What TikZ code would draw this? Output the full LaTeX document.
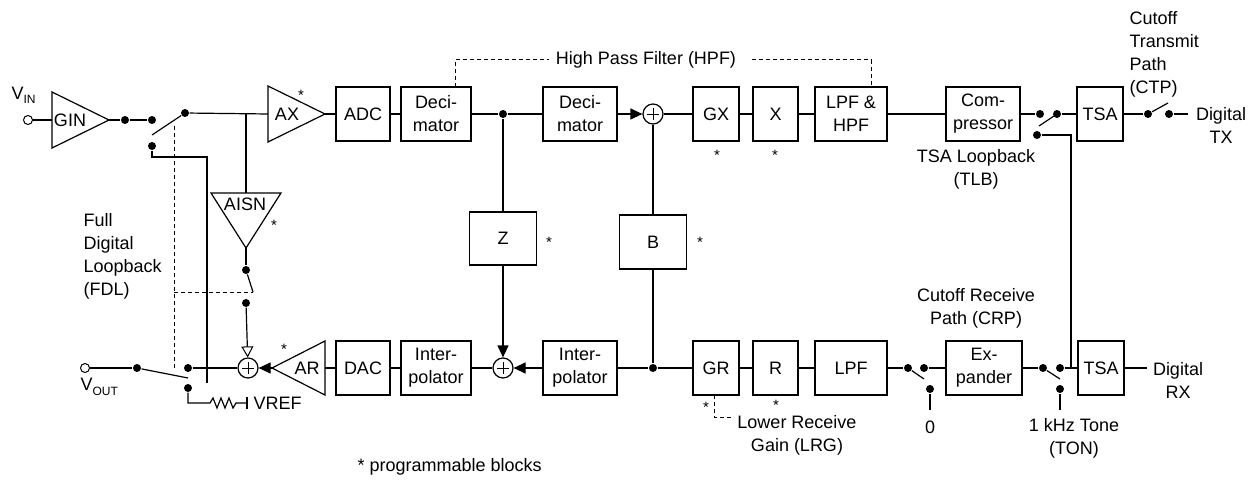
\documentclass[tikz,border=0pt]{standalone}
\usepackage{fontspec}
\setmainfont{Liberation Sans}
\usetikzlibrary{arrows.meta}
\begin{document}
\begin{tikzpicture}[x=1pt,y=-1pt, line width=1.2pt,
  every node/.style={font=\fontsize{18}{23}\selectfont, inner sep=0pt},
  blk/.style={draw, minimum height=54pt, align=center},
  dot/.style={circle, fill, minimum size=8pt, inner sep=0pt},
  odot/.style={circle, draw, fill=white, minimum size=9pt, inner sep=0pt, line width=1pt},
  sum/.style={circle, draw, minimum size=20pt, inner sep=0pt,
    path picture={\draw[line width=0.8pt] ([xshift=-6pt]path picture bounding box.center) -- ([xshift=6pt]path picture bounding box.center);
                  \draw[line width=0.8pt] ([yshift=-6pt]path picture bounding box.center) -- ([yshift=6pt]path picture bounding box.center);}},
  star/.style={font=\fontsize{15}{15}\selectfont},
  arr/.style={-{Triangle[length=12pt,width=11pt]}},
  harr/.style={-{Triangle[open,length=11pt,width=12pt,line width=1pt]}},
  dsh/.style={line width=1pt, dash pattern=on 4pt off 3pt},
  lbl/.style={align=center}
]
\useasboundingbox (0,0) rectangle (1253,481);

% ---------- top row boxes ----------
\node[blk, minimum width=54pt] (adc) at (363,114) {ADC};
\node[blk, minimum width=70pt] (dec1) at (436,114) {Deci-\\mator};
\node[blk, minimum width=74pt] (dec2) at (580,114) {Deci-\\mator};
\node[sum] (sum1) at (653,114) {};
\node[blk, minimum width=46pt] (gx) at (716,114) {GX};
\node[blk, minimum width=45pt] (xb) at (775.5,114) {X};
\node[blk, minimum width=72pt] (lpfhpf) at (851,114) {LPF \&\\HPF};
\node[blk, minimum width=74pt] (comp) at (983,114) {Com-\\pressor};
\node[blk, minimum width=46pt] (tsatx) at (1100,114) {TSA};

% ---------- bottom row boxes ----------
\node[blk, minimum width=54pt] (dac) at (363,368) {DAC};
\node[blk, minimum width=70pt] (int1) at (436,368) {Inter-\\polator};
\node[sum] (sum2) at (503,368) {};
\node[blk, minimum width=74pt] (int2) at (580,368) {Inter-\\polator};
\node[blk, minimum width=46pt] (gr) at (716,368) {GR};
\node[blk, minimum width=45pt] (rb) at (775.5,368) {R};
\node[blk, minimum width=72pt] (lpf) at (851,368) {LPF};
\node[blk, minimum width=76pt] (exp) at (984,368) {Ex-\\pander};
\node[blk, minimum width=46pt] (tsarx) at (1101,368) {TSA};

% ---------- Z and B ----------
\node[blk, minimum width=67pt, minimum height=53pt] (zb) at (503,238.5) {Z};
\node[blk, minimum width=67pt, minimum height=54pt] (bb) at (653,242) {B};

% ---------- GIN ----------
\draw (52,92) -- (52,148) -- (109,120) -- cycle;
\coordinate (ginin) at (52,120);
\coordinate (ginout) at (109,120);
\node (gin) at (70,120) {GIN};
\node[odot] (vin) at (28,120) {};
\node[anchor=west] (vinl) at (11,95) {V\raisebox{-0.45ex}{\fontsize{12}{12}\selectfont IN}};
\draw (vin) -- (ginin);

% input switch
\node[dot] (s1a) at (125,120) {};
\node[dot] (s1b) at (152,120) {};
\node[dot] (s1c) at (152,146) {};
\node[dot] (s1p) at (185,113) {};
\coordinate (s1e) at (152,135);
\draw (ginout) -- (s1a) -- (s1b);
\draw (s1p) -- (s1e);

% AX
\draw (268,86) -- (268,142) -- (325,114) -- cycle;
\coordinate (axin) at (268,114);
\coordinate (axout) at (325,114);
\node (ax) at (287,114) {AX};
\node[star] (axs) at (301,95) {*};
\draw (s1p) -- (axin);
\draw (axout) -- (adc);
\draw (adc) -- (dec1);
\node[dot] (dtap) at (503,114) {};
\draw (dec1) -- (dtap) -- (dec2);
\draw[arr] (dec2) -- (sum1);
\draw (sum1) -- (gx);
\draw (gx) -- (xb);
\draw (xb) -- (lpfhpf);
\draw (lpfhpf) -- (comp);
\node[star] (gxs) at (717,155) {*};
\node[star] (xs) at (775,155) {*};

% AISN
\coordinate (aisntap) at (246,114);
\coordinate (aisnin) at (246,193);
\coordinate (aisnout) at (246,248);
\draw (211,193) -- (281,193) -- (aisnout) -- cycle;
\node (aisn) at (245,204) {AISN};
\node[star] (aisns) at (274,225) {*};
\draw (aisntap) -- (aisnin);
\node[dot] (as1) at (246,270) {};
\node[dot] (as2) at (246,303) {};
\coordinate (as1e) at (253,292);
\draw (aisnout) -- (as1);
\draw (as1) -- (as1e);

% loop from lower contact
\coordinate (lp1) at (152,157);
\coordinate (lp2) at (207,157);
\coordinate (lp3) at (207,383);
\draw (s1c) -- (lp1) -- (lp2) -- (lp3);

% FDL dashed
\coordinate (fd1) at (174,126);
\coordinate (fd2) at (174,368);
\coordinate (fd3) at (174,292);
\draw[dsh] (fd1) -- (fd2);
\draw[dsh] (fd3) -- (as1e);

% bottom left
\node[sum] (sum3) at (248,368) {};
\draw[harr] (as2) -- (sum3);
\node[odot] (vout) at (85,368) {};
\node[anchor=west] (voutl) at (80,387) {V\raisebox{-0.45ex}{\fontsize{12}{12}\selectfont OUT}};
\node[dot] (s2p) at (137,368) {};
\node[dot] (s2a) at (188,368) {};
\node[dot] (s2b) at (188,388) {};
\coordinate (s2e) at (188,378);
\draw (vout) -- (s2p);
\draw (s2p) -- (s2e);
\draw (s2a) -- (sum3);
% VREF
\coordinate (vr1) at (188,403);
\coordinate (vr2) at (247,403);
\draw (s2b) -- (vr1) -- (210,403) -- (213,398) -- (217,408) -- (221,398) -- (225,408) -- (229,398) -- (233,408) -- (236,403) -- (vr2);
\draw (247,397) -- (247,409);
\node[anchor=west] (vref) at (253,403) {VREF};

% AR
\draw (325,341) -- (325,395) -- (272,368) -- cycle;
\coordinate (arin) at (325,368);
\coordinate (arout) at (272,368);
\node (ar) at (307,368) {AR};
\node[star] (ars) at (284,349) {*};
\draw[arr] (arout) -- (sum3);
\draw (dac) -- (arin);
\draw (int1) -- (dac);
\draw (sum2) -- (int1);
\draw[arr] (int2) -- (sum2);
\node[dot] (btap) at (653,368) {};
\draw (int2) -- (btap) -- (gr);
\draw (gr) -- (rb);
\draw (rb) -- (lpf);

% Z and B connections
\draw (dtap) -- (zb);
\draw[arr] (zb) -- (sum2);
\draw (sum1) -- (bb);
\draw (bb) -- (btap);
\node[star] (zs) at (549,242) {*};
\node[star] (bs) at (700,242) {*};

% TLB switch
\node[dot] (tl1) at (1040,114) {};
\node[dot] (tl2) at (1057,114) {};
\node[dot] (tl3) at (1037,135) {};
\coordinate (tlb1) at (1039,126);
\coordinate (tlb2) at (1054,116);
\coordinate (tlc) at (1071,135);
\coordinate (tlj) at (1071,368);
\draw (comp) -- (tl1);
\draw (tlb1) -- (tlb2);
\draw (tl2) -- (tsatx);
\draw (tl3) -- (tlc) -- (tlj);

% CTP switch
\node[dot] (ct1) at (1148,114) {};
\node[dot] (ct2) at (1169,114) {};
\coordinate (cte) at (1168,103);
\coordinate (txe) at (1188,114);
\draw (tsatx) -- (ct1);
\draw (ct1) -- (cte);
\draw (ct2) -- (txe);

% receive side switches
\node[dot] (r1) at (908,368) {};
\node[dot] (r2) at (924,368) {};
\node[dot] (r3) at (930,389) {};
\coordinate (r1e) at (924,379);
\coordinate (r3e) at (930,410);
\draw (lpf) -- (r1);
\draw (r1) -- (r1e);
\draw (r3) -- (r3e);
\draw (r2) -- (exp);
\node[dot] (q1) at (1043,368) {};
\node[dot] (q2) at (1060,368) {};
\node[dot] (q3) at (1060,389) {};
\coordinate (q1e) at (1060,379);
\coordinate (q3e) at (1060,410);
\draw (exp) -- (q1);
\draw (q1) -- (q1e);
\draw (q3) -- (q3e);
\draw (q2) -- (tsarx);
\coordinate (rxe) at (1147,368);
\draw (tsarx) -- (rxe);

% HPF dashed
\node (hpf) at (646,60) {High Pass Filter (HPF)};
\coordinate (h1) at (455,87);
\coordinate (h2) at (455,60);
\coordinate (h3) at (549,60);
\coordinate (h4) at (752,60);
\coordinate (h5) at (871,60);
\coordinate (h6) at (871,87);
\draw[dsh] (h1) -- (h2) -- (h3);
\draw[dsh] (h4) -- (h5) -- (h6);

% LRG dashed
\coordinate (lr1) at (714,395);
\coordinate (lr2) at (714,417);
\coordinate (lr3) at (733,417);
\draw[dsh] (lr1) -- (lr2) -- (lr3);
\node[star] (grs) at (706,407) {*};
\node[star] (rs) at (776,405) {*};

% labels
\node[align=left, anchor=west] (fdl) at (83,256) {Full\\Digital\\Loopback\\(FDL)};
\node[lbl] (crp) at (976,308) {Cutoff Receive\\Path (CRP)};
\node[lbl] (tlb) at (976,169) {TSA Loopback\\(TLB)};
\node[align=left, anchor=west] (ctp) at (1129,54) {Cutoff\\Transmit\\Path\\(CTP)};
\node[lbl] (dtx) at (1221,125) {Digital\\TX};
\node[lbl] (drx) at (1178,380) {Digital\\RX};
\node[lbl] (ton) at (1074,438) {1 kHz Tone\\(TON)};
\node[lbl] (lrg) at (797,435) {Lower Receive\\Gain (LRG)};
\node (zero) at (930,427) {0};
\node[anchor=west] (prog) at (357,467) {* programmable blocks};
\end{tikzpicture}
\end{document}
